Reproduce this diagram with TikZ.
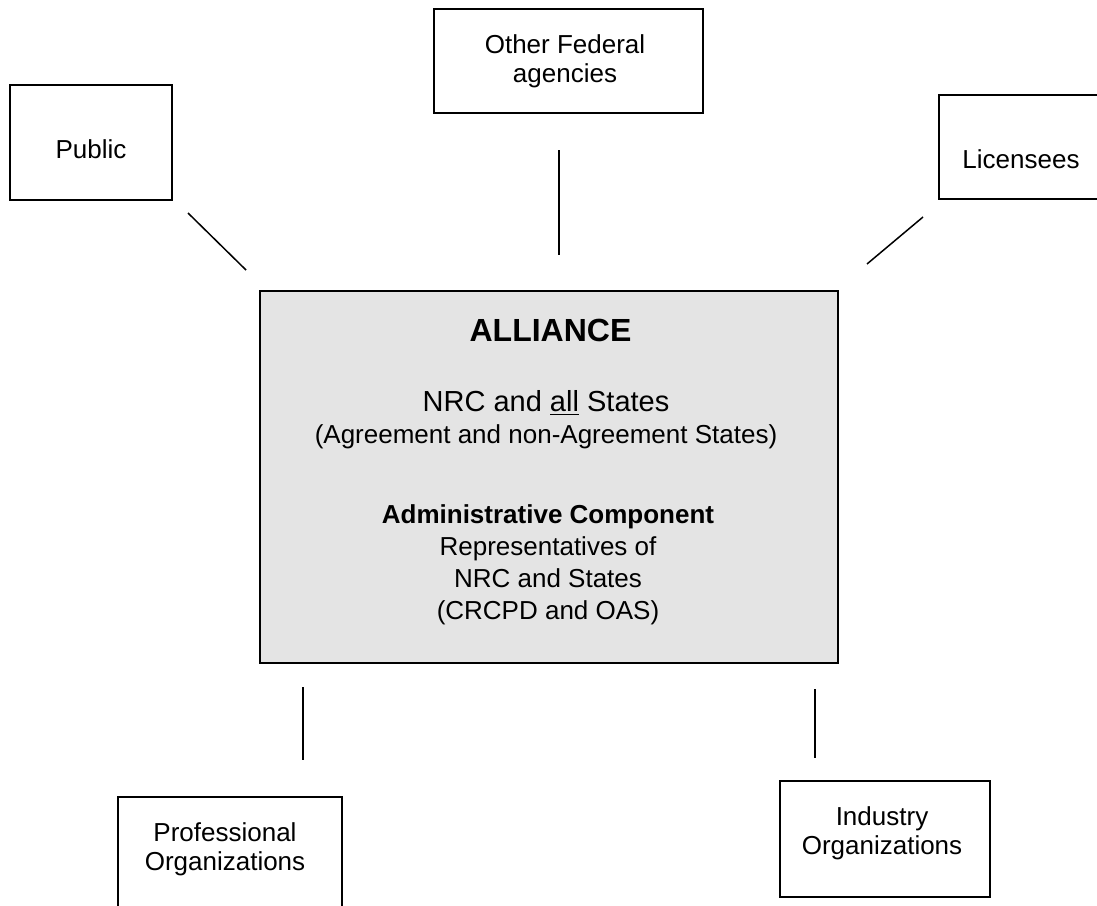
\documentclass[tikz,border=0pt]{standalone}
\usepackage{fontspec}
\setmainfont{Liberation Sans}
\usepackage{tikz}

\definecolor{alliancegray}{HTML}{E4E4E4}

\tikzset{
  party/.style={draw, line width=1pt, inner sep=0pt},
  partytext/.style={anchor=base, align=center, inner sep=0pt, font=\fontsize{13}{14.5}\selectfont},
  link/.style={line width=0.75pt},
}

\begin{document}
\begin{tikzpicture}[x=0.5pt,y=-0.5pt]
\useasboundingbox (0,0) rectangle (1097,905);

% the alliance in the middle
\node[party, fill=alliancegray, minimum width=289.25pt, minimum height=186pt] (alliance) at (548.75,477) {};
\node[anchor=base, inner sep=0pt, font=\fontsize{16}{19}\selectfont\bfseries] (title) at (550.5,341.7) {ALLIANCE};
% base of a node with lines = base of its last line
\node[partytext] (members) at (546,443.3) {{\fontsize{14.5}{16.6}\selectfont NRC and \underline{all} States}\\[1.5pt]
  (Agreement and non-Agreement States)};
\node[partytext, font=\fontsize{13}{15.9}\selectfont] (admin) at (548,619.3) {\textbf{Administrative Component}\\
  Representatives of\\
  NRC and States\\
  (CRCPD and OAS)};

% boxes round it
\node[party, minimum width=81pt, minimum height=57.5pt] (public) at (91,142.5) {};
\node[partytext] (publictext) at (91,158) {Public};

\node[party, minimum width=134.5pt, minimum height=52pt] (federal) at (568.5,61) {};
\node[partytext] (federaltext) at (565,82) {Other Federal\\agencies};

\node[party, minimum width=81.5pt, minimum height=52pt] (licensees) at (1020.5,147) {};
\node[partytext] (licenseestext) at (1021,168.7) {Licensees};

\node[party, minimum width=112pt, minimum height=58pt] (professional) at (230,855) {};
\node[partytext] (professionaltext) at (225,870.7) {Professional\\Organizations};

\node[party, minimum width=105pt, minimum height=58pt] (industry) at (885,839) {};
\node[partytext] (industrytext) at (882,854) {Industry\\Organizations};

% links (they touch neither box)
\coordinate (public-a) at (188,213);
\coordinate (public-b) at (246,270);
\coordinate (federal-a) at (559,150);
\coordinate (federal-b) at (559,255);
\coordinate (licensees-a) at (923,217);
\coordinate (licensees-b) at (867,264);
\coordinate (professional-a) at (303,687);
\coordinate (professional-b) at (303,760);
\coordinate (industry-a) at (815,689);
\coordinate (industry-b) at (815,758);

\draw[link] (public-a) -- (public-b);
\draw[link] (federal-a) -- (federal-b);
\draw[link] (licensees-a) -- (licensees-b);
\draw[link] (professional-a) -- (professional-b);
\draw[link] (industry-a) -- (industry-b);

\end{tikzpicture}
\end{document}
